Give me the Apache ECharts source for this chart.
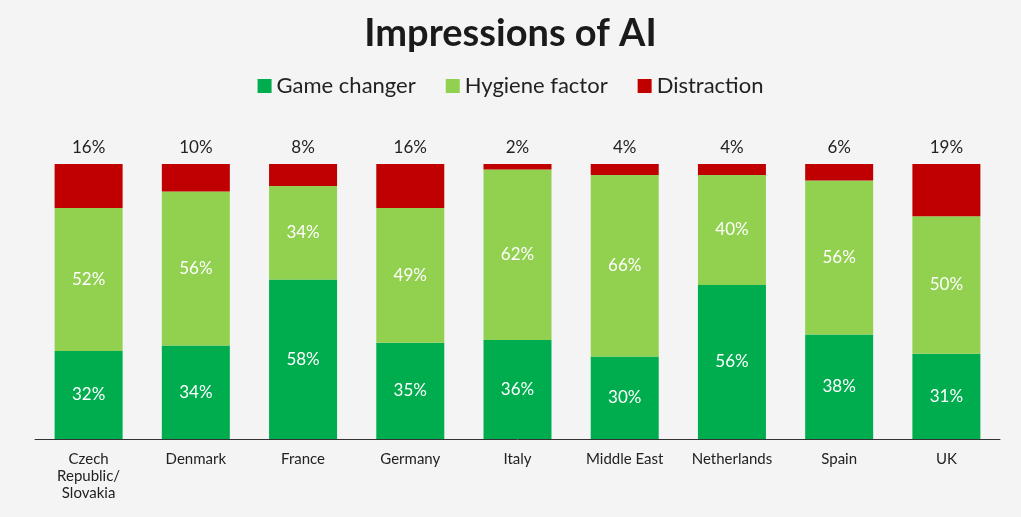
<!DOCTYPE html>
<html><head><meta charset="utf-8">
<script src="https://cdn.jsdelivr.net/npm/echarts@6/dist/echarts.min.js"></script>
<style>html,body{margin:0;background:#f4f4f4}#c{width:1021px;height:517px}</style>
</head><body><div id="c"></div>
<script>
const categories = ['Czech\nRepublic/\nSlovakia','Denmark','France','Germany','Italy','Middle East','Netherlands','Spain','UK'];
const gameChanger = [32,34,58,35,36,30,56,38,31];
const hygiene = [52,56,34,49,62,66,40,56,50];
const distraction = [16,10,8,16,2,4,4,6,19];
const F = 'Lato, "Noto Sans", sans-serif';
const inLabel = {show:true,color:'#fff',fontSize:17,fontFamily:F,formatter:'{c}%'};
const chart = echarts.init(document.getElementById('c'));
chart.setOption({
  backgroundColor:'#f4f4f4',
  title:{text:'Impressions of AI',left:'center',top:10,textStyle:{fontSize:38,fontWeight:'bold',color:'#1a1a1a',fontFamily:F}},
  legend:{top:70,left:'center',itemWidth:14,itemHeight:14,itemGap:30,icon:'rect',textStyle:{fontSize:22,color:'#222',fontFamily:F}},
  grid:{left:35,right:21,top:164,bottom:78,containLabel:false},
  xAxis:{type:'category',data:categories,axisLine:{lineStyle:{color:'#333'}},axisTick:{show:false},
    axisLabel:{fontSize:15,color:'#222',fontFamily:F,lineHeight:17,margin:12}},
  yAxis:{type:'value',min:0,max:100,show:false,splitLine:{show:false}},
  series:[
    {name:'Game changer',type:'bar',stack:'a',data:gameChanger,barWidth:68,itemStyle:{color:'#00ad4e'},label:inLabel},
    {name:'Hygiene factor',type:'bar',stack:'a',data:hygiene,itemStyle:{color:'#92d050'},label:inLabel},
    {name:'Distraction',type:'bar',stack:'a',data:distraction,itemStyle:{color:'#c00000'},
      label:{show:true,position:'top',distance:8,color:'#222',fontSize:17,fontFamily:F,formatter:'{c}%'}}
  ]
});
</script></body></html>
